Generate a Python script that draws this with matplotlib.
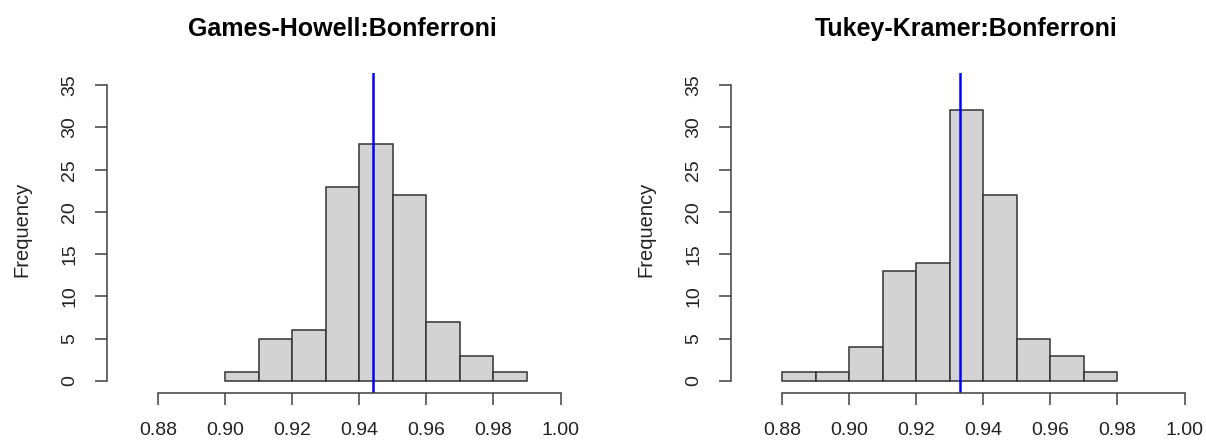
import numpy as np
import matplotlib

matplotlib.use("Agg")
import matplotlib.pyplot as plt

plt.rcParams["font.family"] = ["Liberation Sans", "DejaVu Sans"]

# histogram bin edges and counts
gh_edges = [0.90, 0.91, 0.92, 0.93, 0.94, 0.95, 0.96, 0.97, 0.98, 0.99]
gh_counts = [1, 5, 6, 23, 28, 22, 7, 3, 1]
gh_mean = 0.9442

tk_edges = [0.88, 0.89, 0.90, 0.91, 0.92, 0.93, 0.94, 0.95, 0.96, 0.97, 0.98]
tk_counts = [1, 1, 4, 13, 14, 32, 22, 5, 3, 1]
tk_mean = 0.9332

titles = ["Games-Howell:Bonferroni", "Tukey-Kramer:Bonferroni"]
x_ticks = [0.88, 0.90, 0.92, 0.94, 0.96, 0.98, 1.00]
y_ticks = [0, 5, 10, 15, 20, 25, 30, 35]

W, H = 1206, 441
fig = plt.figure(figsize=(W / 100, H / 100), dpi=100)

axis_col = "#404040"
panels = [
    (107, gh_edges, gh_counts, gh_mean, titles[0]),
    (731, tk_edges, tk_counts, tk_mean, titles[1]),
]
for left_px, edges, counts, mean, title in panels:
    ax = fig.add_axes([left_px / W, (H - 392.7) / H, 471 / W, (392.7 - 73.3) / H])
    edges = np.array(edges)
    ax.bar(edges[:-1], counts, width=np.diff(edges), align="edge",
           color="#D3D3D3", edgecolor="#333333", linewidth=1.1)
    ax.axvline(mean, color="#0000FF", linewidth=1.8)

    ax.set_xlim(0.8648, 1.0052)
    ax.set_ylim(-1.4, 36.4)
    ax.set_xticks(x_ticks)
    ax.set_xticklabels([f"{t:.2f}" for t in x_ticks])
    ax.set_yticks(y_ticks)
    ax.set_yticklabels([str(t) for t in y_ticks], rotation=90, va="center")

    for side in ("top", "right"):
        ax.spines[side].set_visible(False)
    ax.spines["left"].set_bounds(0, 35)
    ax.spines["bottom"].set_bounds(0.88, 1.00)
    for side in ("left", "bottom"):
        ax.spines[side].set_color(axis_col)
        ax.spines[side].set_linewidth(1.1)
    ax.tick_params(direction="out", length=8.6, width=1.1, color=axis_col,
                   labelsize=14, pad=12.2, labelcolor="#222222")

    ax.set_ylabel("Frequency", fontsize=14.5, color="#222222")
    ax.yaxis.set_label_coords(-0.16, 0.51)
    ax.set_title(title, fontsize=18, fontweight="bold", pad=27)

fig.savefig("out.png", dpi=100)
